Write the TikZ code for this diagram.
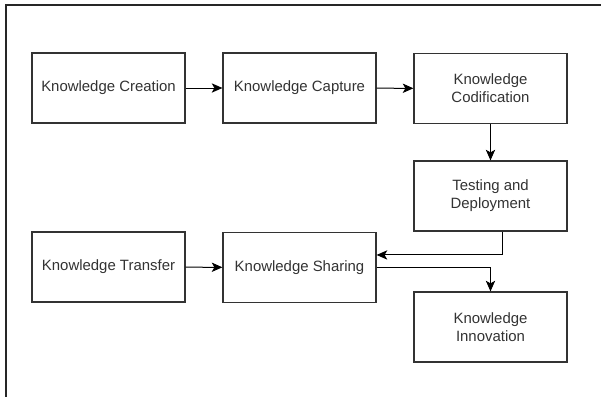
\documentclass[tikz,border=0pt]{standalone}
\usepackage{fontspec}
\setmainfont{Liberation Sans}
\usetikzlibrary{arrows.meta}

\begin{document}
\begin{tikzpicture}[x=0.75pt,y=-0.75pt]
		        \tikzstyle{stage}=[draw=black!80,line width=0.9pt,fill=white,text=black!80,minimum width=114.75pt,minimum height=52.5pt,align=center,font=\fontsize{11.2}{13.5}\selectfont]
		        \tikzstyle{flow}=[draw=black,line width=0.75pt,-{Stealth[length=8pt,width=7pt,inset=2pt]}]
		        \useasboundingbox (0,0) rectangle (601,397);
		        % page frame, only its top and left side show
		        \draw[black!85,line width=0.8pt] (6,397) -- (6,5) -- (601,5);
		    	\begin{scope}
			         \node [stage] (create) at (108.5,88) {Knowledge Creation};
			         \node [stage] (capture) at (299.5,88) {Knowledge Capture};
			         \node [stage] (codify) at (490.5,88.5) {Knowledge\\Codification};
			         \node [stage] (test) at (490.5,196) {Testing and\\Deployment};
			         \node [stage] (transfer) at (108.5,267) {Knowledge Transfer};
			         \node [stage] (share) at (299.5,267.5) {Knowledge Sharing};
			         \node [stage] (innovate) at (490.5,327) {Knowledge\\Innovation};

			         \path[flow] (create) to (capture);
			         \path[flow] (capture) to (codify);
			         \path[flow] (codify) to (test);
			         \path[flow] ([xshift=9pt]test.south) |- ([yshift=9.4pt]share.east);
			         \path[flow] (transfer) to (share);
			         \path[flow] (share.east) -| (innovate.north);
		         \end{scope}
\end{tikzpicture}
\end{document}
